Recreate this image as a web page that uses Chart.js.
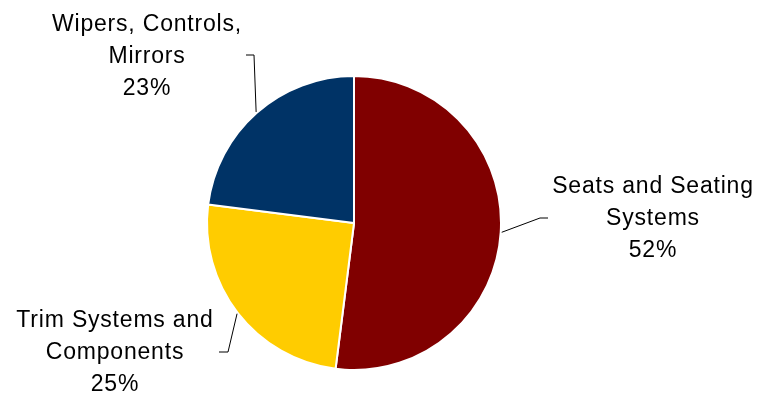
<!DOCTYPE html>
<html>
<head>
<meta charset="utf-8">
<script src="https://cdn.jsdelivr.net/npm/chart.js@4"></script>
<style>
  html, body { margin: 0; padding: 0; background: #ffffff; }
  #wrap { width: 760px; height: 397px; position: relative; }
</style>
</head>
<body>
<div id="wrap"><canvas id="pieChart"></canvas></div>
<script>
// Data
const categories = ["Seats and Seating Systems", "Trim Systems and Components", "Wipers, Controls, Mirrors"];
const shares = [52, 25, 23];
const labelLines = [
  ["Seats and Seating", "Systems"],
  ["Trim Systems and", "Components"],
  ["Wipers, Controls,", "Mirrors"]
];
const sliceColors = ['#800000', '#FFCC00', '#003366'];

// Label placement (text center x, first baseline y, elbow and end of leader line)
const labelLayout = [
  { x: 653, y: 193, elbow: [540, 218], end: [548, 218] },
  { x: 115, y: 327, elbow: [228, 352], end: [219, 352] },
  { x: 147, y: 31,  elbow: [254, 55],  end: [246, 55] }
];

// Draws outside labels with leader lines
const outsideLabels = {
  id: 'outsideLabels',
  afterDraw(chart) {
    const ctx = chart.ctx;
    const arcs = chart.getDatasetMeta(0).data;
    ctx.save();
    arcs.forEach((arc, i) => {
      const lay = labelLayout[i];
      const mid = (arc.startAngle + arc.endAngle) / 2;
      const r = arc.outerRadius + 1;
      const sx = arc.x + Math.cos(mid) * r;
      const sy = arc.y + Math.sin(mid) * r;

      ctx.beginPath();
      ctx.strokeStyle = '#000000';
      ctx.lineWidth = 1;
      ctx.moveTo(sx, sy);
      ctx.lineTo(lay.elbow[0], lay.elbow[1]);
      ctx.lineTo(lay.end[0], lay.end[1]);
      ctx.stroke();

      ctx.fillStyle = '#000000';
      ctx.font = '23px "Liberation Sans", Arial, sans-serif';
      ctx.letterSpacing = '0.8px';
      ctx.textAlign = 'center';
      ctx.textBaseline = 'alphabetic';
      const lines = labelLines[i].concat([shares[i] + '%']);
      lines.forEach((t, k) => {
        ctx.fillText(t, lay.x, lay.y + k * 32);
      });
    });
    ctx.restore();
  }
};

new Chart(document.getElementById('pieChart'), {
  type: 'pie',
  data: {
    labels: categories,
    datasets: [{
      data: shares,
      backgroundColor: sliceColors,
      borderColor: '#ffffff',
      borderWidth: 2
    }]
  },
  options: {
    responsive: true,
    maintainAspectRatio: false,
    animation: false,
    layout: { padding: { top: 75, bottom: 26, left: 0, right: 52 } },
    plugins: {
      legend: { display: false },
      tooltip: { enabled: false }
    }
  },
  plugins: [outsideLabels]
});
</script>
</body>
</html>
